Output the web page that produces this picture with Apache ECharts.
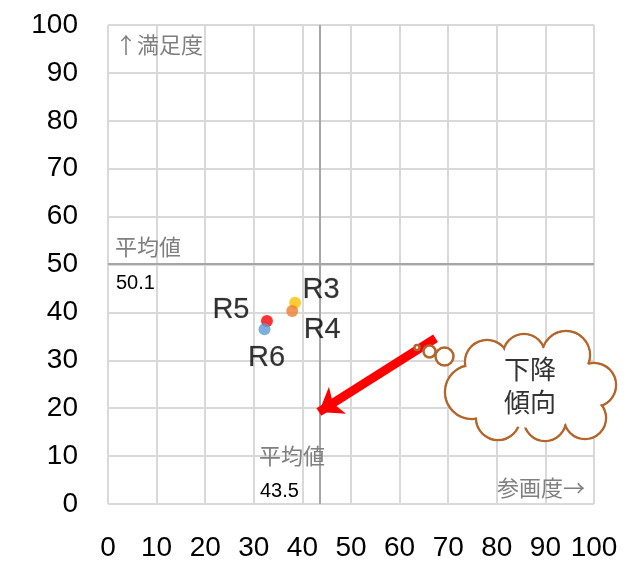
<!DOCTYPE html>
<html>
<head>
<meta charset="utf-8">
<script src="https://cdn.jsdelivr.net/npm/echarts@6/dist/echarts.min.js"></script>
<style>
html,body{margin:0;padding:0;background:#fff;}
#main{width:630px;height:563px;}
</style>
</head>
<body>
<div id="main"></div>
<script>
// ---- data ----
var names = ['R3', 'R4', 'R5', 'R6'];
var xValues = [38.5, 37.9, 32.7, 32.2];   // 参画度
var yValues = [42.0, 40.3, 38.2, 36.5];   // 満足度
var avgX = 43.5;
var avgY = 50.1;
var axisTicks = [0, 10, 20, 30, 40, 50, 60, 70, 80, 90, 100];
var trendFrom = [67.4, 34.6];
var trendTo = [43.4, 19.2];

// ---- styles ----
var pointColors = ['#FFC000', '#ED7D31', '#FF0000', '#5B9BD5'];
var labelOffsets = [[26, -13], [30, 19], [-36, -11], [2, 29]];

var chart = echarts.init(document.getElementById('main'));

var points = names.map(function (n, i) {
  return {
    name: n,
    value: [xValues[i], yValues[i]],
    itemStyle: { color: pointColors[i] },
    label: { offset: labelOffsets[i] }
  };
});

var cloudBumps = [
  [472, 392, 27], [487, 362, 22], [524, 355, 21], [566, 355, 24],
  [594, 385, 22], [585, 418, 21], [545, 420, 21], [498, 418, 22]
];
var cloudColor = '#B4652B';
var graphics = [];
cloudBumps.forEach(function (b) {
  graphics.push({ type: 'circle', shape: { cx: b[0], cy: b[1], r: b[2] },
    style: { fill: '#fff', stroke: cloudColor, lineWidth: 2.5 }, z: 100 });
});
cloudBumps.forEach(function (b) {
  graphics.push({ type: 'circle', shape: { cx: b[0], cy: b[1], r: b[2] - 1.3 },
    style: { fill: '#fff', stroke: null }, z: 101 });
});
graphics.push({ type: 'ellipse', shape: { cx: 535, cy: 388, rx: 66, ry: 40 },
  style: { fill: '#fff' }, z: 101 });
[[417, 347.5, 2.5], [429.5, 351.5, 6], [444.5, 356.5, 9]].forEach(function (b) {
  graphics.push({ type: 'circle', shape: { cx: b[0], cy: b[1], r: b[2] },
    style: { fill: '#fff', stroke: cloudColor, lineWidth: 2.5 }, z: 100 });
});
graphics.push({ type: 'text', x: 530, y: 386, z: 102,
  style: { text: '下降\n傾向', fill: '#333', font: '26px "Noto Sans CJK JP"',
    align: 'center', verticalAlign: 'middle', lineHeight: 33 } });

var grayText = { fill: '#7F7F7F', font: '22px "Noto Sans CJK JP"' };
graphics.push({ type: 'text', x: 115, y: 45, z: 50,
  style: Object.assign({ text: '↑満足度', verticalAlign: 'middle' }, grayText) });
graphics.push({ type: 'text', x: 115, y: 247, z: 50,
  style: Object.assign({ text: '平均値', verticalAlign: 'middle' }, grayText) });
graphics.push({ type: 'text', x: 116, y: 283, z: 50,
  style: { text: avgY.toFixed(1), fill: '#000', font: '20px "Liberation Sans"', verticalAlign: 'middle' } });
graphics.push({ type: 'text', x: 259, y: 456, z: 50,
  style: Object.assign({ text: '平均値', verticalAlign: 'middle' }, grayText) });
graphics.push({ type: 'text', x: 260, y: 491, z: 50,
  style: { text: avgX.toFixed(1), fill: '#000', font: '20px "Liberation Sans"', verticalAlign: 'middle' } });
graphics.push({ type: 'text', x: 585, y: 488, z: 50,
  style: Object.assign({ text: '参画度→', align: 'right', verticalAlign: 'middle' }, grayText) });

var axisCommon = {
  type: 'value', min: axisTicks[0], max: axisTicks[axisTicks.length - 1], interval: 10,
  axisLine: { show: false }, axisTick: { show: false },
  splitLine: { show: true, lineStyle: { color: '#D9D9D9', width: 2 } },
  axisLabel: { color: '#000', fontSize: 28, fontFamily: 'Liberation Sans' }
};

chart.setOption({
  animation: false,
  grid: { left: 108, right: 36, top: 25, bottom: 59, containLabel: false },
  xAxis: Object.assign({}, axisCommon, { axisLabel: Object.assign({}, axisCommon.axisLabel, { margin: 30, hideOverlap: false }) }),
  yAxis: Object.assign({}, axisCommon, { axisLabel: Object.assign({}, axisCommon.axisLabel, { margin: 30 }) }),
  series: [
    {
      type: 'scatter',
      symbolSize: 12,
      data: points,
      z: 5,
      label: {
        show: true, position: 'inside', formatter: '{b}',
        color: '#000', fontSize: 29, fontFamily: 'Liberation Sans',
        textBorderColor: 'rgba(0,0,0,0.3)', textBorderWidth: 0.6
      },
      markLine: {
        silent: true, symbol: 'none', animation: false,
        label: { show: false },
        lineStyle: { color: '#A6A6A6', width: 2, type: 'solid' },
        data: [{ xAxis: avgX }, { yAxis: avgY }]
      }
    },
    {
      type: 'scatter', data: [], z: 8,
      markLine: {
        silent: true, animation: false,
        symbol: ['none', 'arrow'], symbolSize: [24, 22],
        label: { show: false },
        lineStyle: { color: '#FF0000', width: 9, type: 'solid' },
        itemStyle: { color: '#FF0000' },
        data: [[{ coord: trendFrom }, { coord: trendTo }]]
      }
    }
  ],
  graphic: graphics
});
</script>
</body>
</html>
